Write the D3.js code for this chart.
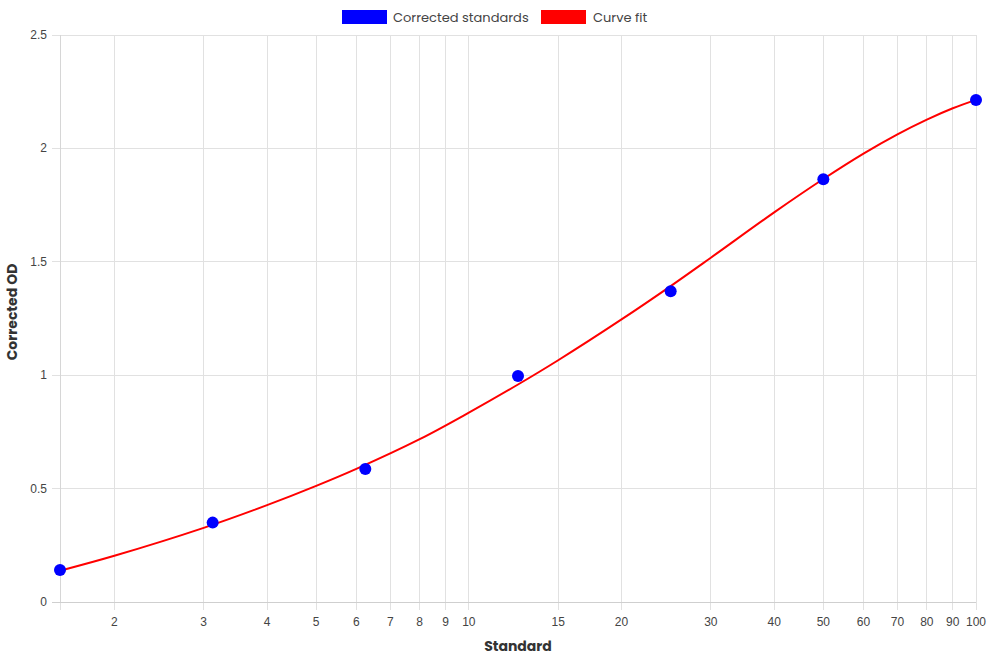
<!DOCTYPE html>
<html><head><meta charset="utf-8">
<script src="https://cdn.jsdelivr.net/npm/d3@7"></script>
<style>body{margin:0;background:#fff}svg{display:block}</style>
</head><body>
<svg id="c" width="990" height="660"></svg>
<script>
const standards = [1.5625, 3.125, 6.25, 12.5, 25, 50, 100];
const correctedOD = [0.141, 0.350, 0.586, 0.996, 1.370, 1.864, 2.213];
const fitX = [1.5625, 2, 3, 4, 5, 6, 8, 10, 12.5, 15, 20, 25, 30, 40, 50, 60, 70, 80, 90, 100];
const fitY = [0.138, 0.204, 0.327, 0.427, 0.512, 0.587, 0.718, 0.835, 0.959, 1.066, 1.246, 1.393, 1.518, 1.718, 1.865, 1.977, 2.062, 2.127, 2.177, 2.214];
const xTicks = [2, 3, 4, 5, 6, 7, 8, 9, 10, 15, 20, 30, 40, 50, 60, 70, 80, 90, 100];
const yTicks = [0, 0.5, 1, 1.5, 2, 2.5];
const legendLabels = ["Corrected standards", "Curve fit"];

const svg = d3.select("#c");
const L = 60, R = 976, T = 35, B = 602;
const x = d3.scaleLog().domain([1.5625, 100]).range([L, R]);
const y = d3.scaleLinear().domain([0, 2.5]).range([B, T]);
const grid = "#e1e1e1";
const tickFont = "'Liberation Sans', Arial, sans-serif";
const titleFont = "'Poppins', 'Open Sans', 'Noto Sans', sans-serif";

// vertical grid (including min)
const gx = svg.append("g");
[1.5625, ...xTicks].forEach(v => {
  gx.append("line").attr("x1", x(v)).attr("x2", x(v)).attr("y1", T).attr("y2", B + 8)
    .attr("stroke", grid).attr("stroke-width", 1).attr("shape-rendering", "crispEdges");
});
xTicks.forEach(v => {
  svg.append("text").attr("x", x(v)).attr("y", 626).attr("text-anchor", "middle")
    .attr("font-family", tickFont).attr("font-size", 12).attr("fill", "#444").text(v);
});
// horizontal grid
yTicks.forEach(v => {
  svg.append("line").attr("x1", L - 8).attr("x2", R).attr("y1", y(v)).attr("y2", y(v))
    .attr("stroke", v === 0 ? "#cfcfcf" : grid).attr("stroke-width", 1).attr("shape-rendering", "crispEdges");
  svg.append("text").attr("x", 47).attr("y", y(v) + 4).attr("text-anchor", "end")
    .attr("font-family", tickFont).attr("font-size", 12).attr("fill", "#444").text(v);
});
svg.append("line").attr("x1", L).attr("x2", L).attr("y1", T).attr("y2", B)
  .attr("stroke", "#d6d6d6").attr("shape-rendering", "crispEdges");

// axis titles
svg.append("text").attr("x", 518).attr("y", 651).attr("text-anchor", "middle")
  .attr("font-family", titleFont).attr("font-weight", "bold").attr("font-size", 14).attr("fill", "#333").text("Standard");
svg.append("text").attr("transform", "translate(17,312) rotate(-90)").attr("text-anchor", "middle")
  .attr("font-family", titleFont).attr("font-weight", "bold").attr("font-size", 14).attr("fill", "#333").text("Corrected OD");

// curve
const fit = fitX.map((d, i) => [d, fitY[i]]);
svg.append("path").datum(fit)
  .attr("d", d3.line().x(d => x(d[0])).y(d => y(d[1])).curve(d3.curveCatmullRom.alpha(0.5)))
  .attr("fill", "none").attr("stroke", "#ff0000").attr("stroke-width", 2);

// points
svg.selectAll("circle.pt").data(standards).enter().append("circle")
  .attr("cx", d => x(d)).attr("cy", (d, i) => y(correctedOD[i])).attr("r", 6)
  .attr("fill", "#0000ff");

// legend
const lg = [{c: "#0000ff", bx: 342, tx: 393}, {c: "#ff0000", bx: 541, tx: 593}];
lg.forEach((g, i) => {
  svg.append("rect").attr("x", g.bx).attr("y", 10).attr("width", 45).attr("height", 14).attr("fill", g.c);
  svg.append("text").attr("x", g.tx).attr("y", 21.5).attr("font-family", titleFont).attr("font-size", 13)
    .attr("fill", "#444").text(legendLabels[i]);
});
</script>
</body></html>
